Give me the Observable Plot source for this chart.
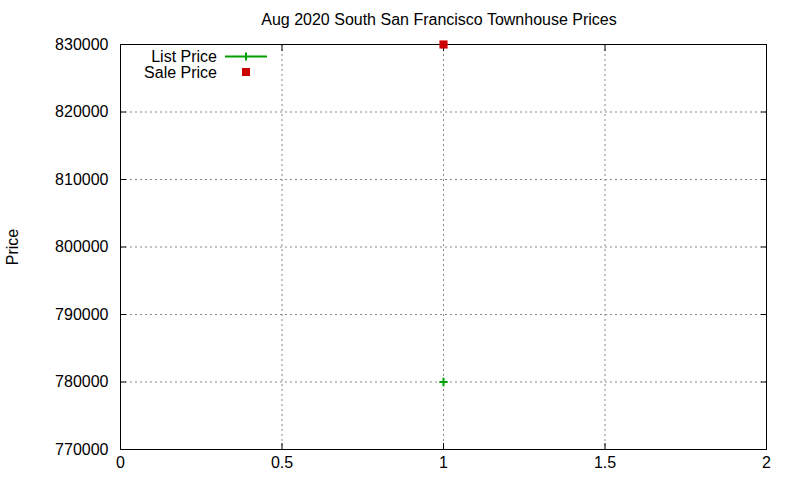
<!DOCTYPE html>
<html><head><meta charset="utf-8">
<script src="https://cdn.jsdelivr.net/npm/d3@7"></script>
<script src="https://cdn.jsdelivr.net/npm/@observablehq/plot@0.6"></script>
<style>
body{margin:0;background:#fff;font-family:"Liberation Sans",Arial,sans-serif;}
#wrap{position:relative;width:800px;height:480px;}
#title{height:36px;line-height:40px;font-size:16px;color:#000;text-align:center;width:646px;margin-left:116px;}
#legend{position:absolute;left:0;top:0;}
</style></head>
<body>
<div id="wrap">
<div id="title">Aug 2020 South San Francisco Townhouse Prices</div>
<div id="chart"></div>
<svg id="legend" width="300" height="90" font-family="Liberation Sans, Arial, sans-serif" font-size="16"></svg>
</div>
<script>
const seriesNames = ["List Price", "Sale Price"];
const seriesColors = ["#00a000", "#cc0000"];
const xValues = [1];
const listPrices = [780000];
const salePrices = [830000];
const xTicks = [0, 0.5, 1, 1.5, 2];
const yTicks = [770000, 780000, 790000, 800000, 810000, 820000, 830000];

const listData = xValues.map((x, i) => ({x, y: listPrices[i]}));
const saleData = xValues.map((x, i) => ({x, y: salePrices[i]}));
const [green, red] = seriesColors;

const chart = Plot.plot({
  width: 800, height: 444,
  marginLeft: 120, marginRight: 34, marginTop: 8, marginBottom: 31,
  style: {fontFamily: "Liberation Sans, Arial, sans-serif", fontSize: "16px", color: "#000", background: "#fff"},
  x: {domain: [0, 2]},
  y: {domain: [770000, 830000]},
  marks: [
    Plot.gridX(xTicks.slice(1, -1), {stroke: "#888", strokeOpacity: 1, strokeDasharray: "2,3"}),
    Plot.gridY(yTicks.slice(1, -1), {stroke: "#888", strokeOpacity: 1, strokeDasharray: "2,3"}),
    Plot.axisX(xTicks, {anchor: "bottom", tickSize: 0, tickPadding: 7, label: null, tickFormat: d => String(d)}),
    Plot.axisX(xTicks, {anchor: "bottom", tickSize: 6, dy: -6, text: null, label: null}),
    Plot.axisX(xTicks, {anchor: "top", tickSize: 6, dy: 6, text: null, label: null}),
    Plot.axisY(yTicks, {anchor: "left", tickSize: 0, tickPadding: 12, tickFormat: d => String(d), label: null}),
    Plot.axisY(yTicks, {anchor: "left", tickSize: 6, dx: 6, text: null, label: null}),
    Plot.axisY(yTicks, {anchor: "right", tickSize: 6, dx: -6, text: null, label: null}),
    Plot.text(["Price"], {frameAnchor: "left", dx: -108, rotate: -90, text: d => d, fontSize: 16, lineAnchor: "middle", textAnchor: "middle"}),
    Plot.frame({stroke: "#000", strokeWidth: 1}),
    Plot.dot(listData, {x: "x", y: "y", symbol: "plus", r: 2.8, stroke: green, strokeWidth: 2}),
    Plot.dot(saleData, {x: "x", y: "y", symbol: "square", r: 4.6, fill: red, stroke: null})
  ]
});
document.getElementById("chart").appendChild(chart);

// legend (gnuplot-style key, top-left inside the frame)
const lg = d3.select("#legend");
const rows = [
  {name: seriesNames[0], y: 56.5, kind: "line"},
  {name: seriesNames[1], y: 72, kind: "point"}
];
rows.forEach((r) => {
  lg.append("text").attr("x", 217).attr("y", r.y).attr("dy", "0.35em").attr("text-anchor", "end").attr("fill", "#000").text(r.name);
  if (r.kind === "line") {
    lg.append("line").attr("x1", 225).attr("x2", 267).attr("y1", r.y).attr("y2", r.y).attr("stroke", green).attr("stroke-width", 2);
    lg.append("line").attr("x1", 246).attr("x2", 246).attr("y1", r.y - 4).attr("y2", r.y + 4).attr("stroke", green).attr("stroke-width", 2);
  } else {
    lg.append("rect").attr("x", 242).attr("y", r.y - 4).attr("width", 8).attr("height", 8).attr("fill", red);
  }
});
</script>
</body></html>
